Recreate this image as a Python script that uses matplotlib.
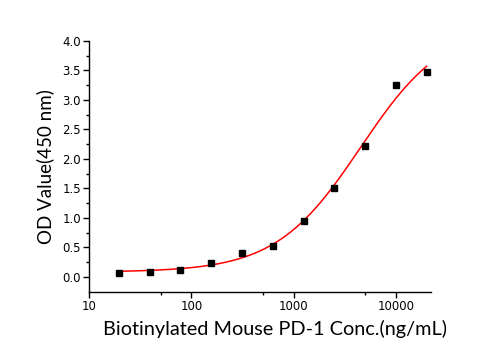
import numpy as np
import matplotlib
matplotlib.use("Agg")
import matplotlib.pyplot as plt
from matplotlib.ticker import FixedLocator, NullFormatter

# measured points
conc = [19.5, 39, 78, 156, 312.5, 625, 1250, 2500, 5000, 10000, 20000]
od = [0.07, 0.08, 0.12, 0.24, 0.40, 0.53, 0.94, 1.50, 2.21, 3.26, 3.48]

# 4-parameter logistic fit (bottom, top, EC50, hill)
fit_bottom = 0.08
fit_top = 4.3
fit_ec50 = 4500.0
fit_hill = 1.05

xticks = [10, 100, 1000, 10000]
xtick_labels = ["10", "100", "1000", "10000"]
yticks = [0.0, 0.5, 1.0, 1.5, 2.0, 2.5, 3.0, 3.5, 4.0]


def logistic4(x):
    return fit_top + (fit_bottom - fit_top) / (1 + (x / fit_ec50) ** fit_hill)


fig = plt.figure(figsize=(5.01, 3.5), dpi=100)
ax = fig.add_axes([0.178, 0.167, 0.682, 0.716])

xs = np.logspace(np.log10(conc[0]), np.log10(conc[-1]), 300)
ax.plot(xs, logistic4(xs), color="#ff0000", lw=1.1, zorder=2)
ax.plot(conc, od, ls="none", marker="s", ms=5, color="black", zorder=3)

ax.set_xscale("log")
ax.set_xlim(10, 22000)
ax.set_ylim(-0.25, 4.0)

ax.xaxis.set_major_locator(FixedLocator(xticks))
ax.set_xticklabels(xtick_labels)
ax.xaxis.set_minor_locator(FixedLocator([50, 500, 5000]))
ax.xaxis.set_minor_formatter(NullFormatter())
ax.set_yticks(yticks)
ax.set_yticklabels(["%.1f" % v for v in yticks])
ax.yaxis.set_minor_locator(FixedLocator(np.arange(0.25, 4.0, 0.5)))

for s in ["top", "right"]:
    ax.spines[s].set_visible(False)
for s in ["left", "bottom"]:
    ax.spines[s].set_linewidth(1.0)

ax.tick_params(which="major", direction="out", length=4, width=1, labelsize=8.5,
               pad=2, colors="black")
ax.tick_params(which="minor", direction="out", length=2.5, width=1)
for lab in ax.get_xticklabels() + ax.get_yticklabels():
    lab.set_family("DejaVu Sans")

# the x title sits a little right of the axis centre in the original
ax.set_xlabel("Biotinylated Mouse PD-1 Conc.(ng/mL)", fontsize=14.3,
              family="Lato", labelpad=5, x=0.544)
ax.set_ylabel("OD Value(450 nm)", fontsize=13.5, family="Lato", labelpad=6)

fig.savefig("out.png", dpi=100)
